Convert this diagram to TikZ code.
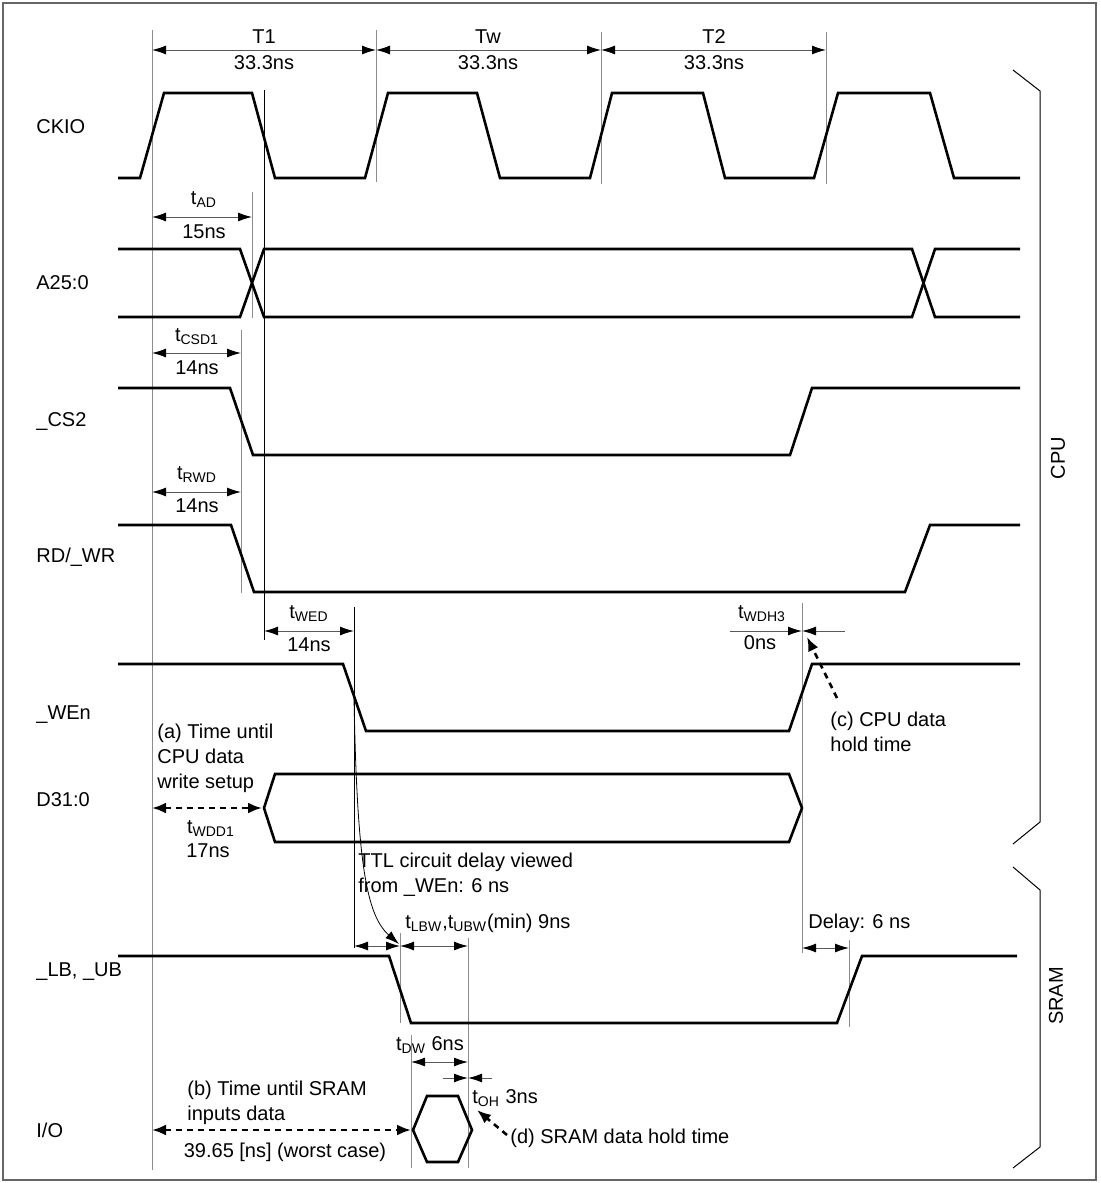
\documentclass[tikz,border=0pt]{standalone}
\usepackage{fontspec}
\setmainfont{Liberation Sans}
\usetikzlibrary{arrows.meta}

\begin{document}
\begin{tikzpicture}[
  x=0.5pt, y=-0.5pt,
  sig/.style={line width=1.3pt, line join=miter},
  guide/.style={black!45, line width=0.5pt},
  guidek/.style={black, line width=0.4pt},
  dim/.style={{Latex[length=7pt,width=4.5pt,black]}-{Latex[length=7pt,width=4.5pt,black]}, black!65, line width=0.5pt},
  dimto/.style={-{Latex[length=7pt,width=4.5pt,black]}, black!65, line width=0.5pt},
  hint/.style={-{Latex[length=7pt,width=5.5pt]}, line width=1.3pt, dash pattern=on 3pt off 2.5pt},
  hint2/.style={{Latex[length=7pt,width=5.5pt]}-{Latex[length=7pt,width=5.5pt]}, line width=1.3pt, dash pattern=on 3pt off 2.5pt},
  lbl/.style={font=\fontsize{10}{12.5}\selectfont, inner sep=0pt},
  sname/.style={lbl, anchor=west},
  note/.style={lbl, anchor=west, align=left},
]
\useasboundingbox (0,0) rectangle (1100,1183);
\draw[black!60, line width=0.6pt] (3,3) rectangle (1096,1180);

% Signal names
\node[sname] (nckio) at (36,127) {CKIO};
\node[sname] (naddr) at (36,283) {A25:0};
\node[sname] (ncs) at (36,421) {\_CS2};
\node[sname] (nrdwr) at (36,557) {RD/\_WR};
\node[sname] (nwe) at (36,715) {\_WEn};
\node[sname] (ndata) at (36,800) {D31:0};
\node[sname] (nlb) at (36,972) {\_LB, \_UB};
\node[sname] (nio) at (36,1130) {I/O};

% Guide lines
\draw[guide] (152,30) -- (152,1170);
\draw[guide] (376,30) -- (376,182);
\draw[guide] (601,32) -- (601,184);
\draw[guide] (826,32) -- (826,184);
\draw[guidek] (264,90) -- (264,640);
\draw[guide] (252,192) -- (252,318);
\draw[guide] (241,330) -- (241,593);
\draw[guidek] (354,607) -- (354,948);
\draw[guide] (802,603) -- (802,953);
\draw[guide] (849,940) -- (849,1027);
\draw[guide] (400,933) -- (400,1023);
\draw[guide] (468,938) -- (468,1168);
\draw[guide] (411,1035) -- (411,1168);

% Bus cycles
\draw[dim] (152,50) -- (376,50);
\draw[dim] (376,50) -- (601,50);
\draw[dim] (601,50) -- (826,50);
\node[lbl] (nt1) at (264,37) {T1};
\node[lbl] (nt1v) at (264,63) {33.3ns};
\node[lbl] (ntw) at (488,37) {Tw};
\node[lbl] (ntwv) at (488,63) {33.3ns};
\node[lbl] (nt2) at (714,37) {T2};
\node[lbl] (nt2v) at (714,63) {33.3ns};

% CKIO
\draw[sig] (118,178) -- (140,178) -- (164,93) -- (252,93) -- (275,178) -- (365,178)
  -- (388,93) -- (477,93) -- (500,178) -- (590,178) -- (612,93) -- (703,93)
  -- (725,178) -- (814,178) -- (838,93) -- (930,93) -- (954,178) -- (1020,178);

% A25:0
\draw[sig] (118,249) -- (240,249) -- (264,317) -- (912,317) -- (935,249) -- (1020,249);
\draw[sig] (118,317) -- (240,317) -- (264,249) -- (912,249) -- (935,317) -- (1020,317);
\draw[dim] (152,217) -- (252,217);
\node[lbl] (ntad) at (204,200) {t\textsubscript{AD}};
\node[lbl] (ntadv) at (204,232) {15ns};

% _CS2
\draw[sig] (118,388) -- (230,388) -- (253,455) -- (790,455) -- (812,388) -- (1020,388);
\draw[dim] (152,353) -- (241,353);
\node[lbl] (ntcsd) at (197,337) {t\textsubscript{CSD1}};
\node[lbl] (ntcsdv) at (197,368) {14ns};

% RD/_WR
\draw[sig] (118,525) -- (231,525) -- (254,592) -- (905,592) -- (930,525) -- (1020,525);
\draw[dim] (152,492) -- (241,492);
\node[lbl] (ntrwd) at (197,475) {t\textsubscript{RWD}};
\node[lbl] (ntrwdv) at (197,506) {14ns};

% _WEn
\draw[sig] (118,664) -- (343,664) -- (366,731) -- (789,731) -- (812,664) -- (1020,664);
\draw[dim] (264,631) -- (354,631);
\node[lbl] (ntwed) at (309,614) {t\textsubscript{WED}};
\node[lbl] (ntwedv) at (309,645) {14ns};
\draw[dimto] (730,631) -- (802,631);
\draw[dimto] (845,631) -- (802,631);
\node[lbl] (ntwdh) at (762,614) {t\textsubscript{WDH3}};
\node[lbl] (ntwdhv) at (760,643) {0ns};
\node[note] (nhold) at (830,732) {(c) CPU data\\hold time};
\draw[hint] (837,698) -- (807,637);

% D31:0
\draw[sig] (264,808) -- (275,774) -- (789,774) -- (802,808) -- (789,842) -- (275,842) -- cycle;
\draw[hint2] (152,808) -- (262,808);
\node[note] (nsetup) at (157,758) {(a) Time until\\CPU data\\write setup};
\node[lbl] (ntwdd) at (211,829) {t\textsubscript{WDD1}};
\node[lbl] (ntwddv) at (208,851) {17ns};

% _LB, _UB
\draw[sig] (118,956) -- (389,956) -- (411,1023) -- (837,1023) -- (862,956) -- (1017,956);
\node[note] (nttl) at (358,875) {TTL circuit delay viewed\\from \_WEn: 6 ns};
\draw[black, line width=0.4pt, -{Latex[length=7pt,width=4.5pt]}] (354,698) .. controls (357,860) and (366,915) .. (399,944);
\draw[dim] (354,946) -- (400,946);
\draw[dim] (400,946) -- (468,946);
\node[note] (ntlbw) at (405,923) {t\textsubscript{LBW},t\textsubscript{UBW}(min) 9ns};
\node[note] (ndelay) at (808,923) {Delay: 6 ns};
\draw[dim] (802,948) -- (849,948);

% I/O
\draw[sig] (413,1130) -- (427,1096) -- (458,1096) -- (472,1130) -- (458,1162) -- (427,1162) -- cycle;
\draw[dim] (411,1062) -- (468,1062);
\node[lbl] (ntdw) at (430,1045) {t\textsubscript{DW} 6ns};
\draw[dimto] (443,1078) -- (468,1078);
\draw[dimto] (492,1078) -- (468,1078);
\node[note] (ntoh) at (472,1098) {t\textsubscript{OH} 3ns};
\draw[hint] (507,1135) -- (477,1110);
\node[note] (nsram) at (510,1138) {(d) SRAM data hold time};
\draw[hint2] (152,1130) -- (411,1130);
\node[note] (ninput) at (187,1103) {(b) Time until SRAM\\inputs data};
\node[lbl] (nworst) at (285,1152) {39.65 [ns] (worst case)};

% CPU / SRAM brackets
\draw[line width=0.5pt] (1013,70) -- (1040,91) -- (1040,822) -- (1013,844);
\draw[line width=0.5pt] (1013,867) -- (1040,890) -- (1040,1147) -- (1013,1168);
\node[lbl, rotate=90] (ncpu) at (1058,458) {CPU};
\node[lbl, rotate=90] (nsramb) at (1056,996) {SRAM};

\end{tikzpicture}
\end{document}
